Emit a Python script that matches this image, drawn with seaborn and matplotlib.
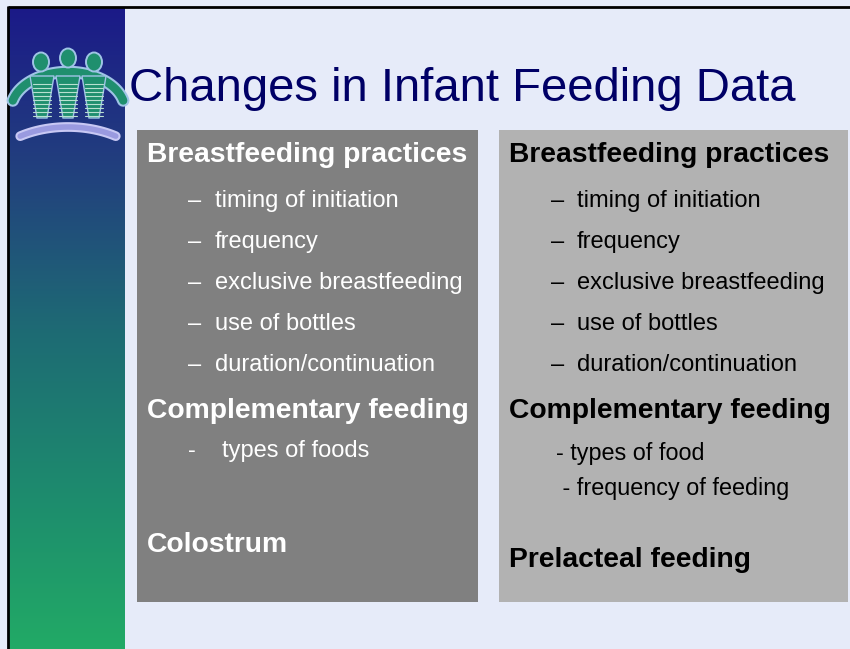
import matplotlib
matplotlib.use("Agg")
import matplotlib.pyplot as plt
import matplotlib.patches as mpatches
import seaborn as sns
import numpy as np

sns.set_theme(style="white")
plt.rcParams['font.family'] = ['Liberation Sans', 'DejaVu Sans']

# Slide content
title = "Changes in Infant Feeding Data"

left_heads = ["Breastfeeding practices", "Complementary feeding", "Colostrum"]
left_items = ["timing of initiation", "frequency", "exclusive breastfeeding",
              "use of bottles", "duration/continuation"]
left_sub = ["types of foods"]

right_heads = ["Breastfeeding practices", "Complementary feeding", "Prelacteal feeding"]
right_items = ["timing of initiation", "frequency", "exclusive breastfeeding",
               "use of bottles", "duration/continuation"]
right_sub = ["- types of food", " - frequency of feeding"]

# Colours
BG = "#e6ebf9"
NAVY = "#000066"
LEFT_BOX = "#808080"
RIGHT_BOX = "#b2b2b2"
sidebar_cols = sns.blend_palette(["#1b1a88", "#22407e", "#1e6a74", "#1d8a6e", "#22aa66"], 256)

fig = plt.figure(figsize=(8.5, 6.49), dpi=100)
ax = fig.add_axes([0, 0, 1, 1])
fig.patch.set_facecolor(BG)

# gradient sidebar
grad = np.linspace(0, 1, 256).reshape(-1, 1)
cmap = matplotlib.colors.ListedColormap(sidebar_cols)
ax.imshow(grad, cmap=cmap, extent=[9, 125, 649, 8], aspect="auto", zorder=1)
ax.set_xlim(0, 850)
ax.set_ylim(649, 0)
ax.axis("off")

# border lines
ax.plot([8, 850], [6.5, 6.5], color="black", lw=2, solid_capstyle="butt")
ax.plot([8, 8], [6, 649], color="black", lw=2, solid_capstyle="butt")

# logo: three linked figures
logo_green = "#1f8f6e"
logo_light = "#9fc4e6"
t = np.linspace(np.pi * 0.92, np.pi * 0.08, 80)
ax.plot(68 + 57 * np.cos(t), 110 - 38 * np.sin(t), color=logo_light, lw=9, zorder=2,
        solid_capstyle="round")
ax.plot(68 + 57 * np.cos(t), 110 - 38 * np.sin(t), color=logo_green, lw=6, zorder=2,
        solid_capstyle="round")
for bx in [42, 68, 94]:
    ax.add_patch(mpatches.Polygon([[bx - 12, 76], [bx + 12, 76], [bx + 5, 118], [bx - 5, 118]],
                                  closed=True, facecolor=logo_green, edgecolor=logo_light,
                                  lw=1.0, zorder=3))
    for sy in np.arange(84, 117, 4):
        ax.plot([bx - 9, bx + 9], [sy, sy], color="#b8e0d0", lw=0.8, zorder=4)
for hx, hy in [(41, 62), (68, 58), (94, 62)]:
    ax.add_patch(mpatches.Ellipse((hx, hy), 16, 19, facecolor=logo_green,
                                  edgecolor=logo_light, lw=1.4, zorder=5))
t2 = np.linspace(np.pi * 0.69, np.pi * 0.31, 60)
ax.plot(68 + 85 * np.cos(t2), 180 - 53 * np.sin(t2), color="#c8c8f4", lw=7, zorder=3,
        solid_capstyle="round")
ax.plot(68 + 85 * np.cos(t2), 180 - 53 * np.sin(t2), color="#9a9ae0", lw=4, zorder=3,
        solid_capstyle="round")

# title
ax.text(129, 101, title, fontsize=34, color=NAVY, va="baseline", ha="left", zorder=5)

# boxes
ax.add_patch(mpatches.Rectangle((137, 130), 341, 472, facecolor=LEFT_BOX, edgecolor="none", zorder=2))
ax.add_patch(mpatches.Rectangle((499, 130), 349, 472, facecolor=RIGHT_BOX, edgecolor="none", zorder=2))

HEAD_FS = 20.3
ITEM_FS = 17
SUB_FS = 16.8
item_y = [207, 248, 289, 330, 371]

# left box
ax.text(147, 162, left_heads[0], fontsize=HEAD_FS, fontweight="bold", color="white", va="baseline", zorder=5)
for y, s in zip(item_y, left_items):
    ax.text(188, y, "\u2013", fontsize=ITEM_FS, color="white", va="baseline", zorder=5)
    ax.text(215, y, s, fontsize=ITEM_FS, color="white", va="baseline", zorder=5)
ax.text(147, 418, left_heads[1], fontsize=HEAD_FS, fontweight="bold", color="white", va="baseline", zorder=5)
ax.text(188, 457, "-", fontsize=ITEM_FS, color="white", va="baseline", zorder=5)
ax.text(222, 457, left_sub[0], fontsize=ITEM_FS, color="white", va="baseline", zorder=5)
ax.text(147, 552, left_heads[2], fontsize=HEAD_FS, fontweight="bold", color="white", va="baseline", zorder=5)

# right box
ax.text(509, 162, right_heads[0], fontsize=HEAD_FS, fontweight="bold", color="black", va="baseline", zorder=5)
for y, s in zip(item_y, right_items):
    ax.text(551, y, "\u2013", fontsize=ITEM_FS, color="black", va="baseline", zorder=5)
    ax.text(577, y, s, fontsize=ITEM_FS, color="black", va="baseline", zorder=5)
ax.text(509, 418, right_heads[1], fontsize=HEAD_FS, fontweight="bold", color="black", va="baseline", zorder=5)
ax.text(556, 460, right_sub[0], fontsize=SUB_FS, color="black", va="baseline", zorder=5)
ax.text(556, 495, right_sub[1], fontsize=SUB_FS, color="black", va="baseline", zorder=5)
ax.text(509, 567, right_heads[2], fontsize=HEAD_FS, fontweight="bold", color="black", va="baseline", zorder=5)

fig.savefig("out.png", dpi=100, facecolor=BG)
